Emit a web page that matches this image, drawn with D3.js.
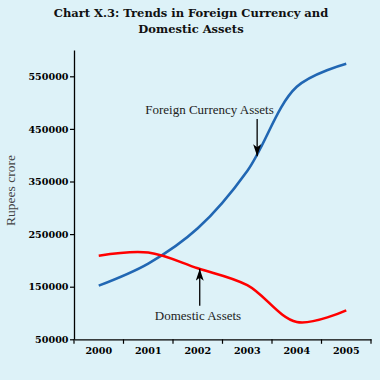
<!DOCTYPE html>
<html><head><meta charset="utf-8">
<script src="https://cdn.jsdelivr.net/npm/d3@7"></script>
<style>
html,body{margin:0;padding:0;background:#ddf2f8;}
svg{display:block;}
</style></head>
<body>
<script>
const years = ["2000","2001","2002","2003","2004","2005"];
const foreignCurrencyAssets = [152000, 194000, 261000, 370000, 530000, 574000];
const domesticAssets = [209000, 215000, 185000, 153000, 83000, 105000];
const yTicks = [50000, 150000, 250000, 350000, 450000, 550000];
const titleLines = ["Chart X.3: Trends in Foreign Currency and", "Domestic Assets"];

const W = 380, H = 380;
const svg = d3.select("body").append("svg").attr("width", W).attr("height", H);
svg.append("rect").attr("width", W).attr("height", H).attr("fill", "#ddf2f8");

const x = d3.scaleBand().domain(years).range([74, 371]).padding(0);
const y = d3.scaleLinear().domain([50000, 600000]).range([339.3, 50]);
const cx = i => x(years[0]) + x.bandwidth() * (i + 0.5);

// title
svg.append("g").selectAll("text").data(titleLines).join("text")
  .attr("x", 191).attr("y", (d, i) => 17.3 + i * 15.3)
  .attr("text-anchor", "middle")
  .attr("font-family", "DejaVu Serif").attr("font-weight", "bold").attr("font-size", 11.5)
  .attr("fill", "#111").text(d => d);

// axes
const yAxis = svg.append("g").attr("transform", "translate(74,0)")
  .call(d3.axisLeft(y).tickValues(yTicks).tickFormat(d3.format("d")).tickSize(4).tickSizeOuter(0));
yAxis.select(".domain").attr("stroke", "#000").attr("stroke-width", 1.3);
yAxis.selectAll(".tick line").attr("stroke", "#000").attr("stroke-width", 1.2);
yAxis.selectAll("text").attr("font-family", "DejaVu Serif").attr("font-weight", "bold")
  .attr("font-size", 9.6).attr("fill", "#000").attr("x", -5.5).attr("dy", "0.34em");

const xAxis = svg.append("g").attr("transform", "translate(0,339.3)")
  .call(d3.axisBottom(x).tickSize(0).tickSizeOuter(0));
xAxis.select(".domain").attr("stroke", "#000").attr("stroke-width", 1.3);
xAxis.selectAll("text").attr("font-family", "DejaVu Serif").attr("font-weight", "bold")
  .attr("font-size", 9.6).attr("fill", "#000").attr("y", 8).attr("dy", "0.71em");
// boundary ticks between categories
const bounds = years.map(d => x(d)).concat([x(years[years.length - 1]) + x.bandwidth()]);
xAxis.append("g").selectAll("line").data(bounds).join("line")
  .attr("x1", d => d).attr("x2", d => d).attr("y1", 0).attr("y2", 4.5)
  .attr("stroke", "#000").attr("stroke-width", 1.2);

// y label
svg.append("text").attr("transform", "translate(14.5,190.5) rotate(-90)")
  .attr("text-anchor", "middle").attr("font-family", "Liberation Serif").attr("font-size", 13.5)
  .attr("fill", "#444").text("Rupees crore");

// lines
const line = d3.line().x((d, i) => cx(i)).y(d => y(d)).curve(d3.curveCatmullRom.alpha(0.5));
svg.append("path").datum(foreignCurrencyAssets).attr("d", line)
  .attr("fill", "none").attr("stroke", "#2167b3").attr("stroke-width", 2.6);
svg.append("path").datum(domesticAssets).attr("d", line)
  .attr("fill", "none").attr("stroke", "#ff0000").attr("stroke-width", 2.6);

// arrow marker
svg.append("defs").append("marker").attr("id", "ah")
  .attr("viewBox", "0 0 12 8").attr("refX", 12).attr("refY", 4)
  .attr("markerWidth", 12).attr("markerHeight", 8).attr("markerUnits", "userSpaceOnUse")
  .attr("orient", "auto")
  .append("path").attr("d", "M0,0 L12,4 L0,8 L3,4 Z").attr("fill", "#000");

// annotations
const fx = cx(3.2);
svg.append("line").attr("x1", fx).attr("x2", fx).attr("y1", y(469000)).attr("y2", y(398000))
  .attr("stroke", "#000").attr("stroke-width", 1.3).attr("marker-end", "url(#ah)");
svg.append("text").attr("x", 209.5).attr("y", y(465000) - 7)
  .attr("text-anchor", "middle").attr("font-family", "Liberation Serif").attr("font-size", 13)
  .attr("fill", "#222").text("Foreign Currency Assets");

const dx = cx(2.04);
svg.append("line").attr("x1", dx).attr("x2", dx).attr("y1", y(114000)).attr("y2", y(184000))
  .attr("stroke", "#000").attr("stroke-width", 1.3).attr("marker-end", "url(#ah)");
svg.append("text").attr("x", 198).attr("y", 319.5)
  .attr("text-anchor", "middle").attr("font-family", "Liberation Serif").attr("font-size", 13)
  .attr("fill", "#222").text("Domestic Assets");
</script>
</body></html>
